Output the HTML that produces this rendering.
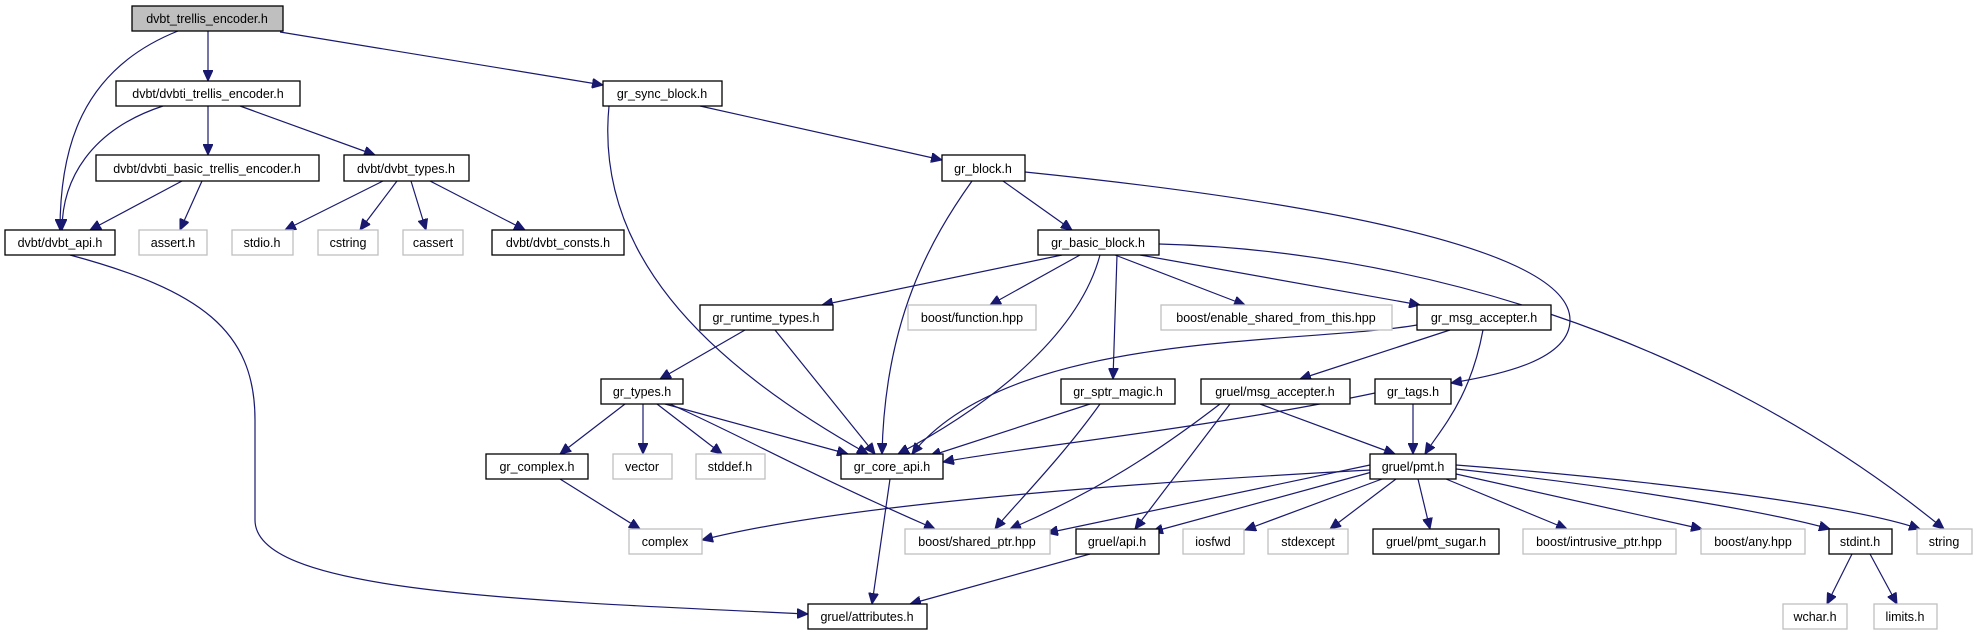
<!DOCTYPE html>
<html><head><meta charset="utf-8"><style>
html,body{margin:0;padding:0;background:#fff;}
svg{display:block;}
text{font-family:"Liberation Sans",sans-serif;font-size:12.5px;fill:#000;text-anchor:middle;}
.b{fill:#fff;stroke:#000;stroke-width:1.3;}
.g{fill:#fff;stroke:#bfbfbf;stroke-width:1.3;}
.e{fill:none;stroke:#191970;stroke-width:1.2;marker-end:url(#ah);}
</style></head><body>
<svg width="1976" height="635" viewBox="0 0 1976 635" xmlns="http://www.w3.org/2000/svg">
<defs><marker id="ah" markerUnits="userSpaceOnUse" markerWidth="12" markerHeight="10" refX="11" refY="5" orient="auto"><path d="M0,0 L11,5 L0,10 Z" fill="#191970" stroke="#191970"/></marker></defs>
<!-- edges -->
<path class="e" d="M208,31 L208,81"/>
<path class="e" d="M178,31 C80,70 60,150 60,230"/>
<path class="e" d="M280,32 L603,85"/>
<path class="e" d="M163,106 C90,130 62,180 62,230"/>
<path class="e" d="M208,106 L208,155"/>
<path class="e" d="M240,106 L375,155"/>
<path class="e" d="M609,106 C595,250 700,360 868,454"/>
<path class="e" d="M700,106 L942,160"/>
<path class="e" d="M182,181 L90,230"/>
<path class="e" d="M202,181 L180,230"/>
<path class="e" d="M383,181 L285,230"/>
<path class="e" d="M397,181 L360,230"/>
<path class="e" d="M411,181 L426,230"/>
<path class="e" d="M430,181 L525,230"/>
<path class="e" d="M1003,181 L1072,230"/>
<path class="e" d="M972,181 C930,240 885,320 882,454"/>
<path class="e" d="M1025,172 C1250,195 1570,240 1570,320 C1570,360 1500,375 1451,383"/>
<path class="e" d="M1159,244 C1400,250 1700,330 1944,529"/>
<path class="e" d="M1062,255 L822,305"/>
<path class="e" d="M1080,255 L990,305"/>
<path class="e" d="M1115,255 L1245,305"/>
<path class="e" d="M1140,255 L1420,305"/>
<path class="e" d="M1117,255 L1113,379"/>
<path class="e" d="M1100,255 C1080,330 1000,400 898,454"/>
<path class="e" d="M745,330 L660,379"/>
<path class="e" d="M775,330 L875,454"/>
<path class="e" d="M1417,325 C1300,345 1010,330 912,454"/>
<path class="e" d="M1450,330 L1300,379"/>
<path class="e" d="M1483,330 C1470,400 1440,430 1425,454"/>
<path class="e" d="M625,404 L560,454"/>
<path class="e" d="M643,404 L643,454"/>
<path class="e" d="M657,404 L722,454"/>
<path class="e" d="M665,404 L848,454"/>
<path class="e" d="M670,404 C750,440 800,470 935,529"/>
<path class="e" d="M1090,404 L930,456"/>
<path class="e" d="M1100,404 C1060,460 1010,510 995,529"/>
<path class="e" d="M1220,404 C1160,450 1100,490 1010,529"/>
<path class="e" d="M1230,404 L1135,529"/>
<path class="e" d="M1260,404 L1395,454"/>
<path class="e" d="M1375,393 C1200,430 1000,450 943,462"/>
<path class="e" d="M1413,404 L1413,454"/>
<path class="e" d="M560,479 L640,529"/>
<path class="e" d="M890,479 L872,604"/>
<path class="e" d="M70,255 C200,290 255,330 255,420 L255,520 C255,590 500,600 808,614"/>
<path class="e" d="M1090,554 L910,604"/>
<path class="e" d="M1370,470 C1000,490 800,515 702,540"/>
<path class="e" d="M1370,465 L1047,533"/>
<path class="e" d="M1372,472 L1152,532"/>
<path class="e" d="M1382,479 L1245,530"/>
<path class="e" d="M1396,479 L1330,529"/>
<path class="e" d="M1418,479 L1430,529"/>
<path class="e" d="M1446,479 L1567,529"/>
<path class="e" d="M1456,474 L1702,529"/>
<path class="e" d="M1456,469 C1650,490 1780,515 1830,529"/>
<path class="e" d="M1456,465 C1650,480 1850,505 1920,529"/>
<path class="e" d="M1852,554 L1827,604"/>
<path class="e" d="M1870,554 L1897,604"/>
<!-- nodes -->
<rect x="132" y="6" width="151" height="25" fill="#bfbfbf" stroke="#000" stroke-width="1.3"/><text x="207" y="23">dvbt_trellis_encoder.h</text>
<rect class="b" x="116" y="81" width="184" height="25"/><text x="208" y="98">dvbt/dvbti_trellis_encoder.h</text>
<rect class="b" x="603" y="81" width="119" height="25"/><text x="662" y="98">gr_sync_block.h</text>
<rect class="b" x="96" y="155" width="223" height="26"/><text x="207" y="173">dvbt/dvbti_basic_trellis_encoder.h</text>
<rect class="b" x="344" y="155" width="125" height="26"/><text x="406" y="173">dvbt/dvbt_types.h</text>
<rect class="b" x="942" y="155" width="83" height="26"/><text x="983" y="173">gr_block.h</text>
<rect class="b" x="5" y="230" width="110" height="25"/><text x="60" y="247">dvbt/dvbt_api.h</text>
<rect class="g" x="139" y="230" width="68" height="25"/><text x="173" y="247">assert.h</text>
<rect class="g" x="232" y="230" width="61" height="25"/><text x="262" y="247">stdio.h</text>
<rect class="g" x="318" y="230" width="60" height="25"/><text x="348" y="247">cstring</text>
<rect class="g" x="403" y="230" width="60" height="25"/><text x="433" y="247">cassert</text>
<rect class="b" x="492" y="230" width="132" height="25"/><text x="558" y="247">dvbt/dvbt_consts.h</text>
<rect class="b" x="1038" y="230" width="121" height="25"/><text x="1098" y="247">gr_basic_block.h</text>
<rect class="b" x="700" y="305" width="133" height="25"/><text x="766" y="322">gr_runtime_types.h</text>
<rect class="g" x="908" y="305" width="128" height="25"/><text x="972" y="322">boost/function.hpp</text>
<rect class="g" x="1161" y="305" width="231" height="25"/><text x="1276" y="322">boost/enable_shared_from_this.hpp</text>
<rect class="b" x="1417" y="305" width="134" height="25"/><text x="1484" y="322">gr_msg_accepter.h</text>
<rect class="b" x="601" y="379" width="82" height="25"/><text x="642" y="396">gr_types.h</text>
<rect class="b" x="1061" y="379" width="114" height="25"/><text x="1118" y="396">gr_sptr_magic.h</text>
<rect class="b" x="1201" y="379" width="149" height="25"/><text x="1275" y="396">gruel/msg_accepter.h</text>
<rect class="b" x="1375" y="379" width="76" height="25"/><text x="1413" y="396">gr_tags.h</text>
<rect class="b" x="486" y="454" width="102" height="25"/><text x="537" y="471">gr_complex.h</text>
<rect class="g" x="613" y="454" width="59" height="25"/><text x="642" y="471">vector</text>
<rect class="g" x="696" y="454" width="69" height="25"/><text x="730" y="471">stddef.h</text>
<rect class="b" x="841" y="454" width="102" height="25"/><text x="892" y="471">gr_core_api.h</text>
<rect class="b" x="1370" y="454" width="86" height="25"/><text x="1413" y="471">gruel/pmt.h</text>
<rect class="g" x="629" y="529" width="73" height="25"/><text x="665" y="546">complex</text>
<rect class="g" x="905" y="529" width="145" height="25"/><text x="977" y="546">boost/shared_ptr.hpp</text>
<rect class="b" x="1076" y="529" width="83" height="25"/><text x="1117" y="546">gruel/api.h</text>
<rect class="g" x="1183" y="529" width="61" height="25"/><text x="1213" y="546">iosfwd</text>
<rect class="g" x="1268" y="529" width="80" height="25"/><text x="1308" y="546">stdexcept</text>
<rect class="b" x="1373" y="529" width="126" height="25"/><text x="1436" y="546">gruel/pmt_sugar.h</text>
<rect class="g" x="1523" y="529" width="153" height="25"/><text x="1599" y="546">boost/intrusive_ptr.hpp</text>
<rect class="g" x="1701" y="529" width="104" height="25"/><text x="1753" y="546">boost/any.hpp</text>
<rect class="b" x="1829" y="529" width="63" height="25"/><text x="1860" y="546">stdint.h</text>
<rect class="g" x="1917" y="529" width="55" height="25"/><text x="1944" y="546">string</text>
<rect class="b" x="808" y="604" width="119" height="25"/><text x="867" y="621">gruel/attributes.h</text>
<rect class="g" x="1783" y="604" width="64" height="25"/><text x="1815" y="621">wchar.h</text>
<rect class="g" x="1874" y="604" width="63" height="25"/><text x="1905" y="621">limits.h</text>
</svg>
</body></html>
